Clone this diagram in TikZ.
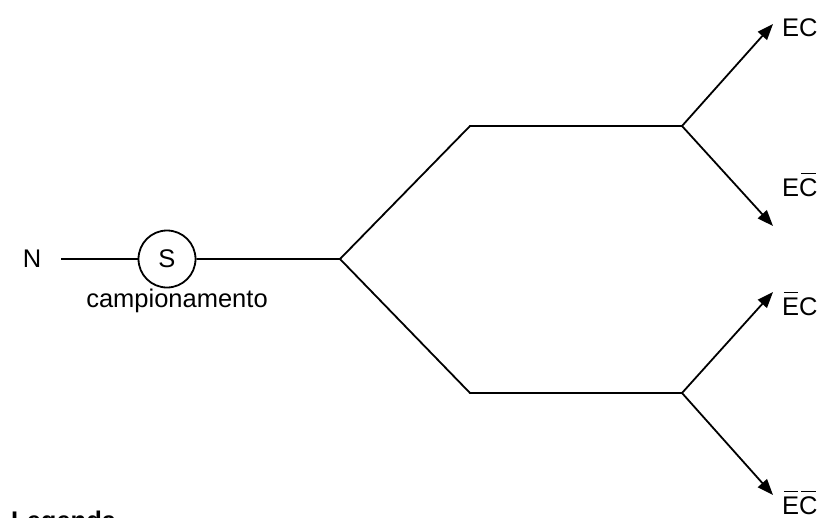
\documentclass[tikz,border=0pt]{standalone}
\usepackage{fontspec}
\setmainfont{Liberation Sans}
\usetikzlibrary{arrows.meta}
\newcommand{\ob}[1]{\setbox0\hbox{#1}\rlap{\hspace{0.1\wd0}\rule[\dimexpr\ht0+4pt\relax]{0.8\wd0}{1.6pt}}\box0}
\begin{document}
\begin{tikzpicture}[x=1pt,y=-1pt,
  txt/.style={inner sep=0pt,font=\fontsize{25.5}{29}\selectfont},
  ln/.style={line width=1.8pt},
  arr/.style={line width=1.8pt,-{Triangle[length=16pt,width=12pt]}}]
\useasboundingbox (0,0) rectangle (829,517);
\node[txt] (N) at (32,259) {N};
\coordinate (n0) at (61,259);
\node[circle,draw,line width=1.8pt,minimum size=57pt,inner sep=0pt,txt] (S) at (167,259) {S};
\node[txt] (camp) at (177,301) {campionamento};
\coordinate (sp) at (340,259);
\coordinate (u1) at (470,126);
\coordinate (u2) at (682,126);
\coordinate (l1) at (470,393);
\coordinate (l2) at (682,393);
\coordinate (a1) at (773,24);
\coordinate (a2) at (773,226);
\coordinate (a3) at (773,292);
\coordinate (a4) at (773,495);
\node[txt,anchor=base west] (EC) at (782,36) {EC};
\node[txt,anchor=base west] (ECb) at (782,196) {E\ob{C}};
\node[txt,anchor=base west] (EbC) at (782,315) {\ob{E}C};
\node[txt,anchor=base west] (EbCb) at (782,514) {\ob{E}\ob{C}};
\node[txt,font=\fontsize{25.5}{29}\selectfont\bfseries,anchor=north west] (leg) at (11,511) {Legenda};
\draw[ln] (n0) -- (S.west);
\draw[ln] (S.east) -- (sp) -- (u1) -- (u2);
\draw[ln] (sp) -- (l1) -- (l2);
\draw[arr] (u2) -- (a1);
\draw[arr] (u2) -- (a2);
\draw[arr] (l2) -- (a3);
\draw[arr] (l2) -- (a4);
\end{tikzpicture}
\end{document}
